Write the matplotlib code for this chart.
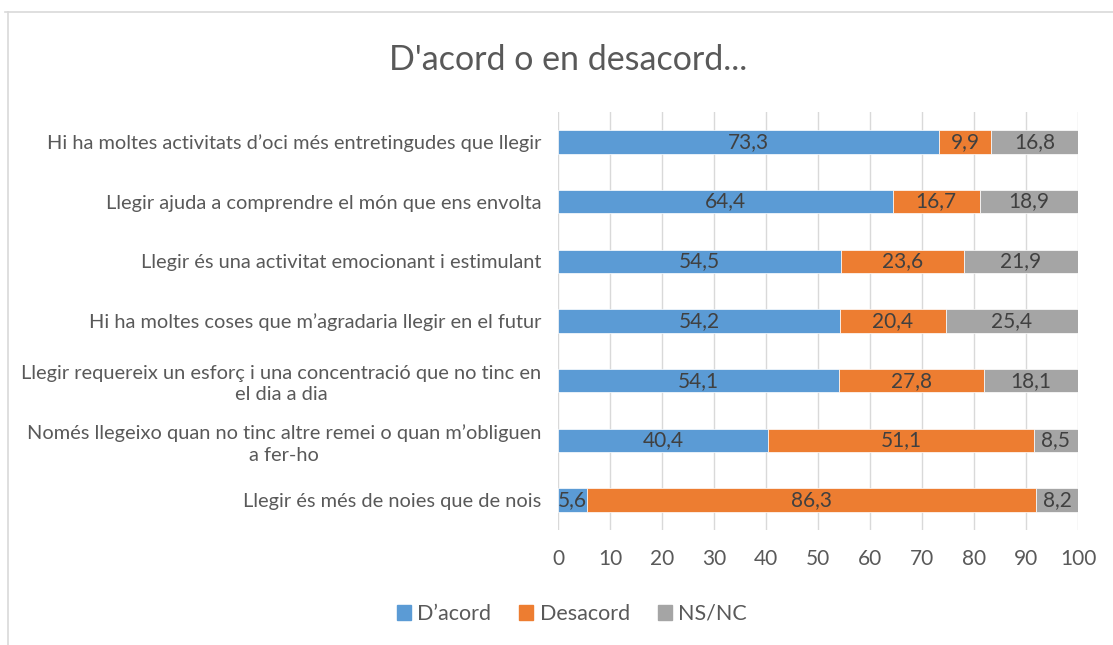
import matplotlib
matplotlib.use("Agg")
import matplotlib.pyplot as plt
import numpy as np
from matplotlib.lines import Line2D

plt.rcParams['font.family'] = ['Lato', 'DejaVu Sans']

categories = [
    "Hi ha moltes activitats d’oci més entretingudes que llegir",
    "Llegir ajuda a comprendre el món que ens envolta",
    "Llegir és una activitat emocionant i estimulant",
    "Hi ha moltes coses que m’agradaria llegir en el futur",
    "Llegir requereix un esforç i una concentració que no tinc en\nel dia a dia",
    "Només llegeixo quan no tinc altre remei o quan m’obliguen\na fer-ho",
    "Llegir és més de noies que de nois",
]
acord = [73.3, 64.4, 54.5, 54.2, 54.1, 40.4, 5.6]
desacord = [9.9, 16.7, 23.6, 20.4, 27.8, 51.1, 86.3]
nsnc = [16.8, 18.9, 21.9, 25.4, 18.1, 8.5, 8.2]
series_names = ["D’acord", "Desacord", "NS/NC"]
colors = ["#5B9BD5", "#ED7D31", "#A5A5A5"]
xticks = list(range(0, 101, 10))

text_col = "#595959"
label_col = "#404040"

fig = plt.figure(figsize=(11.13, 6.45), dpi=100)
ax = fig.add_axes([558 / 1113, 1 - 530 / 645, 520 / 1113, 418 / 645])

y = np.arange(len(categories))
left = np.zeros(len(categories))
for name, vals, col in zip(series_names, [acord, desacord, nsnc], colors):
    vals = np.array(vals)
    bars = ax.barh(y, vals, left=left, height=0.39, color=col,
                   edgecolor="white", linewidth=0.5, label=name, zorder=3)
    ax.bar_label(bars, labels=[f"{v:.1f}".replace(".", ",") for v in vals],
                 label_type="center", fontsize=15, color=label_col)
    left += vals

ax.set_xlim(0, 100)
ax.set_ylim(len(categories) - 0.5, -0.5)
ax.set_xticks(xticks)
ax.set_yticks(y)
ax.set_yticklabels(categories, multialignment="center", linespacing=1.3)
ax.tick_params(axis="x", length=0, pad=14, labelsize=15, labelcolor=text_col)
ax.tick_params(axis="y", length=0, pad=12, labelsize=14.4, labelcolor=text_col)
ax.grid(axis="x", color="#D9D9D9", linewidth=1.0, zorder=0)
for s in ax.spines.values():
    s.set_visible(False)

fig.text(568 / 1113, 1 - 60 / 645, "D'acord o en desacord...", ha="center",
         va="center", fontsize=24.5, color=text_col)

handles = [plt.Rectangle((0, 0), 1, 1, color=c) for c in colors]
fig.legend(handles, series_names, loc="center", bbox_to_anchor=(572 / 1113, 1 - 614 / 645),
           ncol=3, frameon=False, fontsize=15.5, labelcolor=text_col,
           handlelength=0.65, handleheight=0.65, handletextpad=0.3, columnspacing=1.3)

# chart border
fig.add_artist(Line2D([5 / 1113, 1], [1 - 12 / 645, 1 - 12 / 645], color="#D9D9D9", linewidth=1.2))
fig.add_artist(Line2D([7.5 / 1113, 7.5 / 1113], [0, 1 - 12 / 645], color="#D9D9D9", linewidth=1.2))

fig.savefig("out.png", dpi=100)
